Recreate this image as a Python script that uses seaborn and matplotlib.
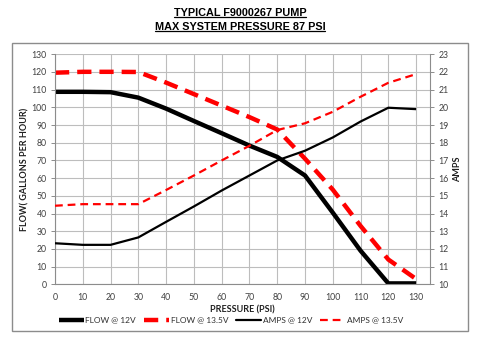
import matplotlib
matplotlib.use("Agg")
import matplotlib.pyplot as plt
from matplotlib.lines import Line2D
from matplotlib.patches import Rectangle
import seaborn as sns
import pandas as pd

# Pump performance data
pressure = [0, 10, 20, 30, 40, 50, 60, 70, 80, 90, 100, 110, 120, 130]
flow_12v = [108.8, 108.8, 108.6, 105.5, 99.3, 92.3, 85.4, 78.4, 72.0, 61.5, 40.5, 19.0, 0.5, 0.5]
flow_135v = [119.6, 120.1, 120.1, 120.0, 114.0, 107.5, 101.0, 94.5, 87.5, 71.0, 53.5, 33.0, 14.0, 3.0]
amps_12v = [12.32, 12.23, 12.23, 12.65, 13.53, 14.4, 15.3, 16.15, 17.0, 17.55, 18.3, 19.2, 19.98, 19.9]
amps_135v = [14.44, 14.53, 14.53, 14.53, 15.33, 16.15, 17.0, 17.83, 18.72, 19.1, 19.75, 20.6, 21.39, 21.88]

title_lines = ["TYPICAL F9000267 PUMP", "MAX SYSTEM PRESSURE 87 PSI"]
x_ticks = list(range(0, 131, 10))
flow_ticks = list(range(0, 131, 10))
amp_ticks = list(range(10, 24))

df = pd.DataFrame({
    "pressure": pressure,
    "flow_12v": flow_12v,
    "flow_135v": flow_135v,
    "amps_12v": amps_12v,
    "amps_135v": amps_135v,
})

sns.set_style("white")
plt.rcParams["font.family"] = ["Lato", "DejaVu Sans"]

W, H = 480, 343
fig = plt.figure(figsize=(W / 100, H / 100), dpi=100)

# outer chart border
fig.add_artist(Rectangle((12 / W, 1 - 331 / H), 456 / W, 288 / H,
                         transform=fig.transFigure, fill=False,
                         edgecolor="#8c8c8c", linewidth=1.0))

ax = fig.add_axes([55 / W, 1 - 284.3 / H, 375 / W, 230 / H])
ax2 = ax.twinx()

red = "#ff0000"
thick_dash = (0, (3.2, 1.8))
thin_dash = (0, (3.5, 2.2))

sns.lineplot(data=df, x="pressure", y="flow_12v", ax=ax, color="black",
             linewidth=3.2, solid_capstyle="butt", label="FLOW @ 12V", legend=False)
sns.lineplot(data=df, x="pressure", y="flow_135v", ax=ax, color=red,
             linewidth=3.2, linestyle=thick_dash, dash_capstyle="butt",
             label="FLOW @ 13.5V", legend=False)
sns.lineplot(data=df, x="pressure", y="amps_12v", ax=ax2, color="black",
             linewidth=1.6, solid_capstyle="butt", label="AMPS @ 12V", legend=False)
sns.lineplot(data=df, x="pressure", y="amps_135v", ax=ax2, color=red,
             linewidth=1.6, linestyle=thin_dash, dash_capstyle="butt",
             label="AMPS @ 13.5V", legend=False)

ax.set_xlim(0, 135)
ax.set_ylim(0, 130)
ax2.set_ylim(10, 23)
ax.set_xticks(x_ticks)
ax.set_yticks(flow_ticks)
ax2.set_yticks(amp_ticks)

grid_c = "#bdbdbd"
ax.grid(True, color=grid_c, linewidth=0.8)
ax.set_axisbelow(True)
ax2.grid(False)

for a in (ax, ax2):
    for s in a.spines.values():
        s.set_visible(False)
ax.spines["left"].set_visible(True)
ax.spines["left"].set_color("#8c8c8c")
ax.spines["bottom"].set_visible(True)
ax.spines["bottom"].set_color("#8c8c8c")
ax2.spines["right"].set_visible(True)
ax2.spines["right"].set_color("#8c8c8c")

tick_kw = dict(labelsize=6.3, length=3, width=0.7, pad=3)
ax.tick_params(axis="both", direction="out", colors="#8c8c8c",
               labelcolor="#404040", **tick_kw)
ax2.tick_params(axis="y", direction="out", colors="#8c8c8c",
                labelcolor="#404040", **tick_kw)

ax.set_xlabel("PRESSURE (PSI)", fontsize=6.5, fontweight="bold", color="#202020", labelpad=3)
ax.set_ylabel("FLOW( GALLONS PER HOUR)", fontsize=6.5, fontweight="bold", color="#202020", labelpad=1.5)
ax2.set_ylabel("AMPS", fontsize=6.5, fontweight="bold", color="#202020", labelpad=3.5)

handles = [
    Line2D([], [], color="black", linewidth=3.2, solid_capstyle="butt"),
    Line2D([], [], color=red, linewidth=3.2, linestyle=thick_dash, dash_capstyle="butt"),
    Line2D([], [], color="black", linewidth=1.6),
    Line2D([], [], color=red, linewidth=1.6, linestyle=thin_dash, dash_capstyle="butt"),
]
labels = ["FLOW @ 12V", "FLOW @ 13.5V", "AMPS @ 12V", "AMPS @ 13.5V"]
fig.legend(handles, labels, loc="center", bbox_to_anchor=(231 / W, 1 - 320 / H),
           ncol=4, frameon=False, fontsize=6.0, handlelength=3.0,
           handletextpad=0.15, columnspacing=1.0, borderaxespad=0,
           labelcolor="#303030")

# underlined two-line title
fig.canvas.draw()
renderer = fig.canvas.get_renderer()
for txt, yc in zip(title_lines, [12.5, 26.5]):
    t = fig.text(240 / W, 1 - yc / H, txt, ha="center", va="center",
                 fontsize=7.8, fontweight="bold", color="black",
                 family=["Liberation Sans", "DejaVu Sans"])
    bb = t.get_window_extent(renderer)
    inv = fig.transFigure.inverted()
    (x0, y0), (x1, _) = inv.transform([(bb.x0, bb.y0), (bb.x1, bb.y0)])
    fig.add_artist(Line2D([x0, x1], [y0 + 0.3 / H, y0 + 0.3 / H],
                          transform=fig.transFigure, color="black", linewidth=0.9))

fig.savefig("out.png", dpi=100)
